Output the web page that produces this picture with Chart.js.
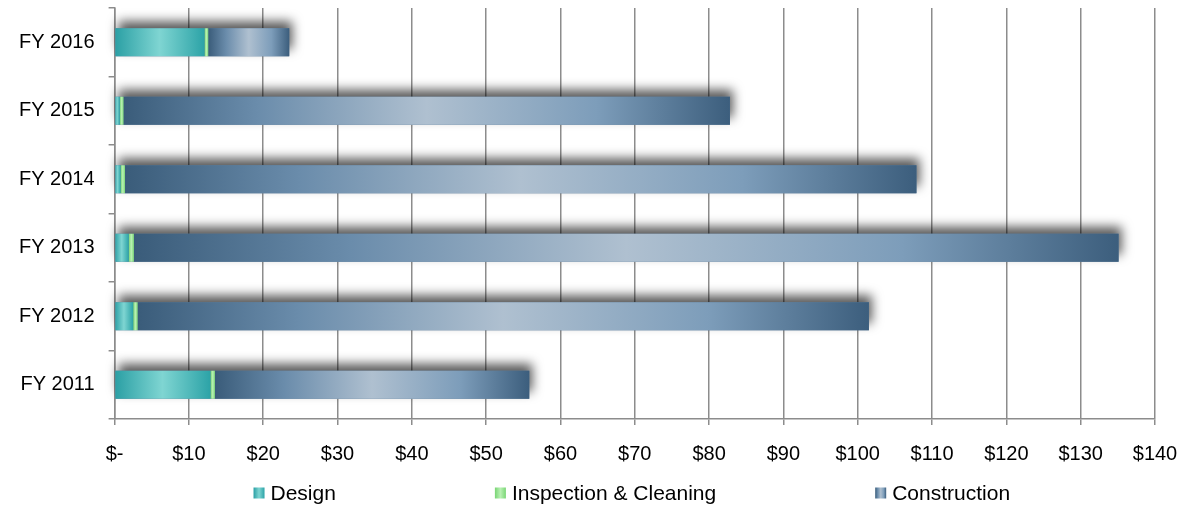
<!DOCTYPE html>
<html>
<head>
<meta charset="utf-8">
<script src="https://cdn.jsdelivr.net/npm/chart.js@4/dist/chart.umd.min.js"></script>
<style>
  html, body { margin: 0; padding: 0; background: #ffffff; }
  #wrap { width: 1184px; height: 508px; position: relative; }
</style>
</head>
<body>
<div id="wrap"><canvas id="chart" width="1184" height="508"></canvas></div>
<script>
// Fiscal years, listed top to bottom
const fiscalYears = ['FY 2016', 'FY 2015', 'FY 2014', 'FY 2013', 'FY 2012', 'FY 2011'];

// Spending per program (millions of dollars)
const designSpend       = [12.1, 0.7, 0.8, 1.9, 2.5, 12.9];
const inspectionSpend   = [0.5, 0.5, 0.6, 0.7, 0.6, 0.6];
const constructionSpend = [10.9, 81.6, 106.5, 132.5, 98.4, 42.3];

// Horizontal axis tick labels ($0 .. $140 in steps of 10)
const xTickLabels = ['$-', '$10', '$20', '$30', '$40', '$50', '$60', '$70',
                     '$80', '$90', '$100', '$110', '$120', '$130', '$140'];

const seriesNames = ['Design', 'Inspection & Cleaning', 'Construction'];
const seriesValues = [designSpend, inspectionSpend, constructionSpend];

const FONT = "'Liberation Sans', Arial, sans-serif";
const GRID = '#8c8c8c';

// Colour ramps along each segment: dark at the ends, light in the middle
const ramps = [
  [[0, '#2a9fa4'], [0.5, '#7fd5d2'], [1, '#2ca3a7']],
  [[0, '#78d474'], [0.5, '#b9f1b3'], [1, '#7ad676']],
  [[0, '#3a5c7a'], [0.22, '#6a8cab'], [0.5, '#afc0d0'], [0.78, '#7d9dba'], [1, '#3c5e7d']]
];
const solids = ['#4dbcbd', '#a6e8a0', '#6888a5'];

function segmentFill(c, s) {
  if (c.type !== 'data') return solids[s];
  const chart = c.chart;
  const xs = chart.scales && chart.scales.x;
  if (!xs) return solids[s];
  let start = 0;
  for (let k = 0; k < s; k++) start += seriesValues[k][c.dataIndex];
  const end = start + seriesValues[s][c.dataIndex];
  const x0 = xs.getPixelForValue(start);
  const x1 = xs.getPixelForValue(end);
  if (!isFinite(x0) || !isFinite(x1) || x1 - x0 < 0.5) return solids[s];
  const g = chart.ctx.createLinearGradient(x0, 0, x1, 0);
  ramps[s].forEach(([o, col]) => g.addColorStop(o, col));
  return g;
}

// Soft shadow cast above each full stacked bar
const barShadow = {
  id: 'barShadow',
  beforeDatasetsDraw(chart) {
    const first = chart.getDatasetMeta(0).data;
    const last = chart.getDatasetMeta(chart.data.datasets.length - 1).data;
    const ctx = chart.ctx;
    ctx.save();
    ctx.shadowColor = 'rgba(0,0,0,0.65)';
    ctx.shadowBlur = 11;
    ctx.shadowOffsetX = 3;
    ctx.shadowOffsetY = -7;
    ctx.fillStyle = '#5f7f9c';
    first.forEach((el, i) => {
      const a = el.getProps(['base', 'y', 'height'], true);
      const b = last[i].getProps(['x'], true);
      ctx.fillRect(a.base, a.y - a.height / 2, b.x - a.base, a.height);
    });
    ctx.restore();
  }
};

// Legend row centred under the plot area
const bottomLegend = {
  id: 'bottomLegend',
  afterDraw(chart) {
    const ctx = chart.ctx;
    const area = chart.chartArea;
    const box = 11, gapText = 6, gapItem = 159;
    ctx.save();
    ctx.font = '21px ' + FONT;
    ctx.textBaseline = 'middle';
    ctx.textAlign = 'left';
    const widths = seriesNames.map(t => box + gapText + ctx.measureText(t).width);
    const total = widths.reduce((a, b) => a + b, 0) + gapItem * (widths.length - 1);
    let x = (area.left + area.right) / 2 - 3 - total / 2;
    const y = 493;
    seriesNames.forEach((name, i) => {
      const g = ctx.createLinearGradient(x, 0, x + box, 0);
      ramps[i].forEach(([o, col]) => g.addColorStop(o, col));
      ctx.fillStyle = g;
      ctx.fillRect(x, y - box / 2, box, box);
      ctx.fillStyle = '#000000';
      ctx.fillText(name, x + box + gapText, y + 1);
      x += widths[i] + gapItem;
    });
    ctx.restore();
  }
};

// Let the layout padding alone decide the plot-area edges
function noLabelOverhang(scale) {
  scale.paddingTop = 0;
  scale.paddingBottom = 0;
  scale.paddingLeft = 0;
  scale.paddingRight = 0;
}

new Chart(document.getElementById('chart'), {
  type: 'bar',
  data: {
    labels: fiscalYears,
    datasets: seriesNames.map((name, s) => ({
      label: name,
      data: seriesValues[s],
      backgroundColor: (c) => segmentFill(c, s),
      borderWidth: 0,
      barPercentage: 0.41,
      categoryPercentage: 1
    }))
  },
  options: {
    indexAxis: 'y',
    responsive: false,
    animation: false,
    devicePixelRatio: 1,
    layout: { padding: { left: 5, right: 29, top: 8, bottom: 25 } },
    plugins: {
      legend: { display: false },
      tooltip: { enabled: false }
    },
    scales: {
      x: {
        stacked: true,
        min: 0,
        max: 140,
        afterFit: noLabelOverhang,
        ticks: {
          stepSize: 10,
          autoSkip: false,
          maxRotation: 0,
          padding: 17,
          color: '#000000',
          font: { family: FONT, size: 20 },
          callback: (v, i) => xTickLabels[i]
        },
        grid: { color: GRID, lineWidth: 1.5, tickLength: 6, drawTicks: true },
        border: { color: GRID, width: 1.5 }
      },
      y: {
        stacked: true,
        offset: true,
        afterFit: noLabelOverhang,
        ticks: {
          padding: 14,
          color: '#000000',
          font: { family: FONT, size: 20 }
        },
        grid: { offset: true, drawOnChartArea: false, color: GRID, lineWidth: 1.5, tickLength: 6 },
        border: { color: GRID, width: 1.5 }
      }
    }
  },
  plugins: [barShadow, bottomLegend]
});
</script>
</body>
</html>
